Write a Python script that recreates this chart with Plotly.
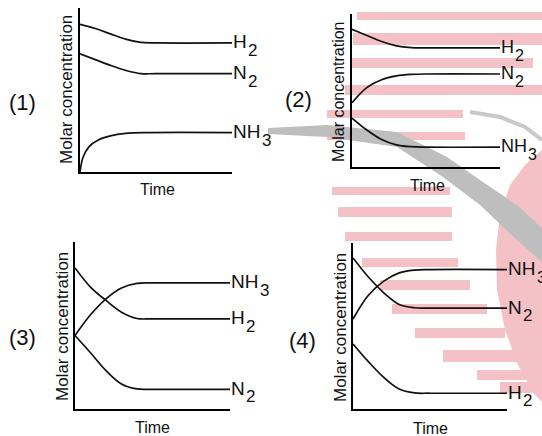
import plotly.graph_objects as go

W, H = 542, 436

# time axis (arbitrary units, 0-10 across each x-axis)
TIME = [0, 1, 2, 3, 4, 5, 10]
TIME_FAST = [0, 0.2, 0.6, 1.2, 2, 3, 4.5, 10]

# molar concentration (arbitrary units, 0-10 up each y-axis)
P1_H2 = [9.0, 8.75, 8.42, 8.1, 7.9, 7.87, 7.87]
P1_N2 = [7.2, 6.85, 6.5, 6.2, 6.0, 6.0, 6.0]
P1_NH3 = [0.0, 0.9, 1.55, 1.95, 2.2, 2.35, 2.4, 2.4]

P2_H2 = [9.0, 8.6, 8.2, 7.92, 7.8, 7.78, 7.78]
P2_N2 = [4.2, 5.19, 5.7, 5.95, 6.05, 6.08, 6.08]
P2_NH3 = [3.2, 2.42, 1.8, 1.45, 1.33, 1.3, 1.3]

P3_H2 = [8.45, 7.3, 6.5, 5.8, 5.42, 5.4, 5.4]
P3_NH3 = [4.4, 5.64, 6.6, 7.25, 7.52, 7.55, 7.55]
P3_N2 = [4.4, 3.37, 2.3, 1.5, 1.2, 1.18, 1.18]

P4_N2 = [9.1, 7.95, 7.0, 6.3, 6.1, 6.08, 6.08]
P4_NH3 = [5.42, 6.85, 7.7, 8.2, 8.37, 8.4, 8.4]
P4_H2 = [3.92, 2.85, 1.9, 1.2, 0.97, 0.95, 0.95]

LABELS = ["(1)", "(2)", "(3)", "(4)"]

# panel geometry in pixels: axis left, axis right, axis top, axis bottom
panels = [
    dict(box=(80, 232, 8, 172), tag=(22, 102), ylab=(66, 90), xlab=(157, 190), fs=17, lf=19,
         series=[(TIME, P1_H2, "H2"), (TIME, P1_N2, "N2"), (TIME_FAST, P1_NH3, "NH3")]),
    dict(box=(352, 500, 14, 167), tag=(298, 100), ylab=(338, 92), xlab=(427, 185), fs=16, lf=18,
         series=[(TIME, P2_H2, "H2"), (TIME, P2_N2, "N2"), (TIME, P2_NH3, "NH3")]),
    dict(box=(75, 230, 242, 409), tag=(22, 337), ylab=(62, 327), xlab=(152, 427), fs=17, lf=19,
         series=[(TIME, P3_NH3, "NH3"), (TIME, P3_H2, "H2"), (TIME, P3_N2, "N2")]),
    dict(box=(353, 507, 243, 409), tag=(302, 340), ylab=(340, 328), xlab=(430, 428), fs=17, lf=19,
         series=[(TIME, P4_NH3, "NH3"), (TIME, P4_N2, "N2"), (TIME, P4_H2, "H2")]),
]

FONT = "Liberation Sans, Arial, sans-serif"
INK = "#111111"
PINK = "#F4C2C6"
GRAY = "#BEBEBE"
CHAR_W = {"H": 0.722, "N": 0.722}


def px(x, y):
    return x / W, 1 - y / H


def path_from(points, close=True):
    pts = [px(x, y) for x, y in points]
    d = "M " + " L ".join(f"{a:.4f},{b:.4f}" for a, b in pts)
    return d + " Z" if close else d


def formula_label(xr, yr, y, name, fs):
    # chemical formula with a big, low subscript like the source drawing
    main, sub = name[:-1], name[-1]
    w = sum(CHAR_W[c] for c in main) * fs
    base = dict(x=10, y=y, xref=xr, yref=yr, showarrow=False, xanchor="left", yanchor="middle")
    return [
        dict(text=main, xshift=-1, yshift=1, font=dict(family=FONT, size=fs, color=INK), **base),
        dict(text=sub, xshift=w + 0.5, yshift=-7.5, font=dict(family=FONT, size=fs - 2, color=INK), **base),
    ]


fig = go.Figure()
annotations = []
layout_axes = {}

for i, p in enumerate(panels):
    n = "" if i == 0 else str(i + 1)
    x0, x1, y0, y1 = p["box"]
    common = dict(showline=True, linecolor="black", linewidth=2, showgrid=False,
                  zeroline=False, showticklabels=False, ticks="", range=[0, 10],
                  fixedrange=True)
    layout_axes["xaxis" + n] = dict(domain=[x0 / W, x1 / W], anchor="y" + n, **common)
    layout_axes["yaxis" + n] = dict(domain=[1 - y1 / H, 1 - y0 / H], anchor="x" + n, **common)

    for t, v, name in p["series"]:
        fig.add_trace(go.Scatter(
            x=t, y=v, xaxis="x" + n, yaxis="y" + n, mode="lines",
            line=dict(color=INK, width=1.7, shape="spline"),
            hoverinfo="skip", showlegend=False, cliponaxis=False
        ))
        annotations += formula_label("x" + n, "y" + n, v[-1], name, p["lf"])

    tx, ty = px(*p["tag"])
    annotations.append(dict(x=tx, y=ty, xref="paper", yref="paper", text=LABELS[i],
                            showarrow=False, xanchor="center", yanchor="middle",
                            font=dict(family=FONT, size=22, color=INK)))
    lx, ly = px(*p["ylab"])
    annotations.append(dict(x=lx, y=ly, xref="paper", yref="paper", text="Molar concentration",
                            showarrow=False, textangle=-90, xanchor="center", yanchor="middle",
                            font=dict(family=FONT, size=p["fs"], color=INK)))
    mx, my = px(*p["xlab"])
    annotations.append(dict(x=mx, y=my, xref="paper", yref="paper", text="Time",
                            showarrow=False, xanchor="center", yanchor="middle",
                            font=dict(family=FONT, size=16, color=INK)))

# faint watermark behind the panels
stripes = [
    (357, 542, 12, 20), (353, 542, 33, 45), (352, 533, 58, 68), (345, 542, 85, 95),
    (327, 463, 110, 118), (327, 465, 132, 140), (332, 450, 187, 195), (338, 452, 207, 217),
    (345, 452, 232, 241), (362, 458, 258, 267), (380, 470, 280, 290), (392, 487, 304, 314),
    (415, 505, 328, 338), (443, 542, 350, 362), (477, 542, 370, 380), (500, 542, 382, 393),
]
shapes = []
for sx0, sx1, sy0, sy1 in stripes:
    a0, b0 = px(sx0, sy1)
    a1, b1 = px(sx1, sy0)
    shapes.append(dict(type="rect", xref="paper", yref="paper", x0=a0, x1=a1, y0=b0, y1=b1,
                       fillcolor=PINK, line_width=0, layer="below"))

pink_blob = [(542, 150), (525, 165), (510, 185), (500, 215), (496, 250), (497, 290),
             (505, 330), (518, 365), (535, 395), (542, 402)]
shapes.append(dict(type="path", xref="paper", yref="paper", path=path_from(pink_blob),
                   fillcolor=PINK, line_width=0, layer="below"))

gray_band = [(268, 128), (327, 125), (397, 132), (447, 157), (480, 180), (517, 205), (542, 228),
             (542, 262), (517, 240), (480, 205), (443, 177), (397, 147), (327, 137), (268, 134)]
shapes.append(dict(type="path", xref="paper", yref="paper", path=path_from(gray_band),
                   fillcolor=GRAY, line_width=0, layer="below"))
gray_arc = [(470, 112), (500, 117), (525, 127), (542, 140)]
shapes.append(dict(type="path", xref="paper", yref="paper", path=path_from(gray_arc, close=False),
                   line=dict(color="#C8C8C8", width=4), layer="below"))

fig.update_layout(
    width=W, height=H,
    margin=dict(l=0, r=0, t=0, b=0),
    paper_bgcolor="white",
    plot_bgcolor="rgba(0,0,0,0)",
    showlegend=False,
    annotations=annotations,
    shapes=shapes,
    **layout_axes
)

# the page body has a default 8px margin; drop it so the figure fills the window
fig.write_html("out.html", config={"displayModeBar": False},
               post_script="document.body.style.margin = '0';")
